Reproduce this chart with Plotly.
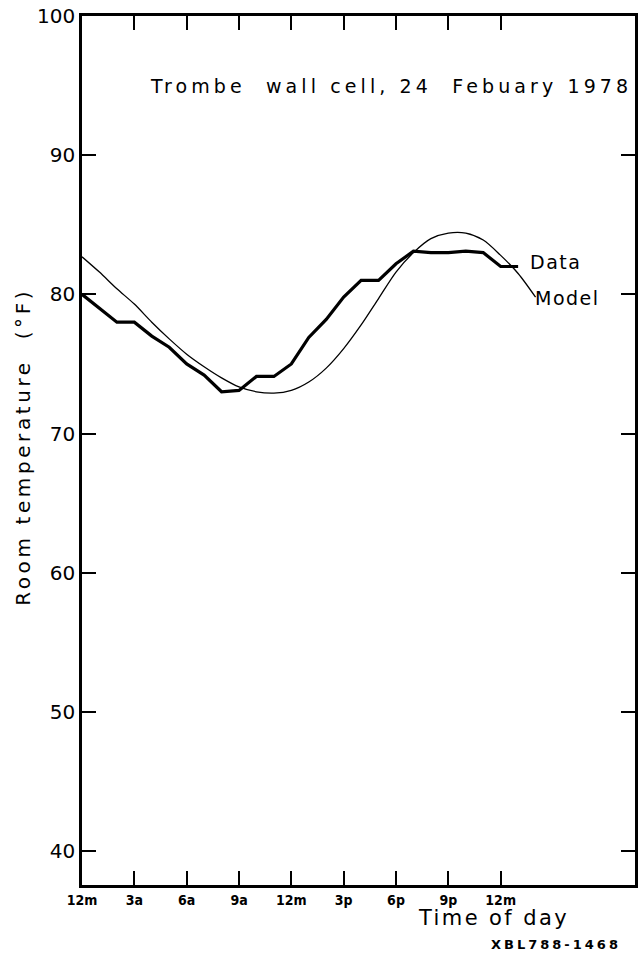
import plotly.graph_objects as go

# ---- data ----
hours_data = list(range(0, 26))
temp_data = [80, 79, 78, 78, 77, 76.2, 75, 74.2, 73, 73.1, 74.1, 74.1, 75,
             76.9, 78.2, 79.8, 81, 81, 82.2, 83.1, 83, 83, 83.1, 83, 82, 82]

hours_model = list(range(0, 27))
temp_model = [82.7, 81.6, 80.4, 79.3, 78.0, 76.8, 75.7, 74.8, 74.0, 73.35, 73.0,
              72.9, 73.1, 73.7, 74.7, 76.1, 77.8, 79.7, 81.6, 83.0, 84.0, 84.4,
              84.4, 83.9, 82.8, 81.5, 79.8]

x_tickvals = [0, 3, 6, 9, 12, 15, 18, 21, 24]
x_ticktext = ["12m", "3a", "6a", "9a", "12m", "3p", "6p", "9p", "12m"]
y_tickvals = [40, 50, 60, 70, 80, 90, 100]

FONT = "DejaVu Sans"

fig = go.Figure()
fig.add_trace(go.Scatter(x=hours_model, y=temp_model, mode="lines",
                         line=dict(color="black", width=1.3, shape="spline", smoothing=0.8),
                         showlegend=False, hoverinfo="skip"))
fig.add_trace(go.Scatter(x=hours_data, y=temp_data, mode="lines",
                         line=dict(color="black", width=3.2),
                         showlegend=False, hoverinfo="skip"))

def spaced(t, ls):
    return '<span style="letter-spacing:%spx">%s</span>' % (ls, t)

annotations = [
    dict(x=17.7, y=95.0, xref="x", yref="y",
         text=spaced("Trombe\u00a0 wall cell, 24\u00a0 Febuary 1978", 4.1),
         showarrow=False, font=dict(family=FONT, size=19, color="black"),
         xanchor="center", yanchor="middle"),
    dict(x=25.55, y=82.35, xref="x", yref="y", text=spaced("Data", 1.5),
         showarrow=False, font=dict(family=FONT, size=19, color="black"),
         xanchor="left", yanchor="middle"),
    dict(x=25.85, y=79.75, xref="x", yref="y", text=spaced("Model", 1.5),
         showarrow=False, font=dict(family=FONT, size=19, color="black"),
         xanchor="left", yanchor="middle"),
    dict(x=-0.107, y=0.504, xref="paper", yref="paper",
         text=spaced("Room temperature\u00a0 (°F)", 3.6), textangle=-90,
         showarrow=False, font=dict(family=FONT, size=20, color="black"),
         xanchor="center", yanchor="middle"),
    dict(x=0.745, y=-0.038, xref="paper", yref="paper",
         text=spaced("Time of day", 2.4), showarrow=False,
         font=dict(family=FONT, size=21, color="black"),
         xanchor="center", yanchor="middle"),
    dict(x=0.857, y=-0.068, xref="paper", yref="paper",
         text=spaced("<b>XBL788-1468</b>", 3), showarrow=False,
         font=dict(family=FONT, size=13, color="black"),
         xanchor="center", yanchor="middle"),
]

fig.update_layout(
    width=641, height=955,
    margin=dict(l=82, r=6, t=16, b=70, autoexpand=False),
    plot_bgcolor="white", paper_bgcolor="white",
    annotations=annotations,
    xaxis=dict(range=[0, 31.7], tickvals=x_tickvals, ticktext=x_ticktext,
               ticks="inside", ticklen=14, tickwidth=1.8, tickcolor="black",
               showline=True, linecolor="black", linewidth=2.6, mirror="ticks",
               showgrid=False, zeroline=False, automargin=False,
               tickfont=dict(family="DejaVu Sans Condensed", size=14, color="black", weight="bold")),
    yaxis=dict(range=[37.56, 100], tickvals=y_tickvals,
               ticks="inside", ticklen=14, tickwidth=1.8, tickcolor="black",
               showline=True, linecolor="black", linewidth=2.6, mirror="ticks",
               showgrid=False, zeroline=False, automargin=False,
               tickfont=dict(family=FONT, size=20, color="black")),
)

fig.write_html("out.html",
               config={"displayModeBar": False},
               post_script="document.body.style.margin='0';document.body.style.overflow='hidden';")
